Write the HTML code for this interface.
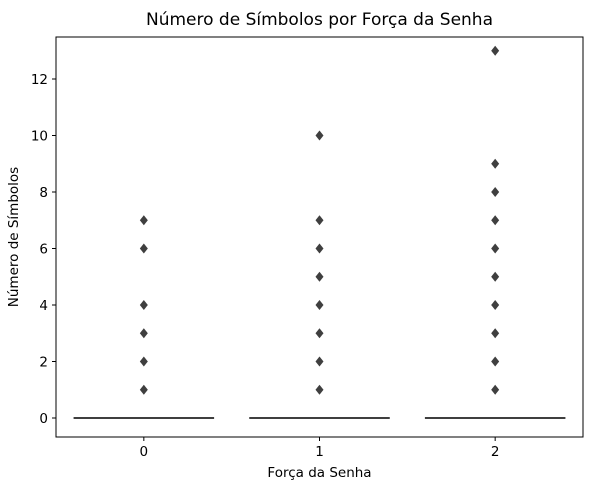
<!DOCTYPE html>
<html><head><meta charset="utf-8"><style>
body{margin:0;background:#fff;font-family:"DejaVu Sans","Liberation Sans",sans-serif}
text{font-family:"DejaVu Sans","Liberation Sans",sans-serif}
</style></head><body>
<svg width="593" height="490" xmlns="http://www.w3.org/2000/svg">
<g id="plot"></g>
</svg>
<script>
const categories=["0","1","2"];
const outliers0=[1,2,3,4,6,7];
const outliers1=[1,2,3,4,5,6,7,10];
const outliers2=[1,2,3,4,5,6,7,8,9,13];
const medians=[0,0,0];
const yTicks=[0,2,4,6,8,10,12];
const outliers=[outliers0,outliers1,outliers2];
const L=56,R=583,T=37,B=437;
const y=v=>418-v*28.25;
const band=(R-L)/categories.length;
const x=i=>L+band*(i+0.5);
const NS="http://www.w3.org/2000/svg";
const g=document.getElementById('plot');
function mk(t,a){const e=document.createElementNS(NS,t);for(const k in a)e.setAttribute(k,a[k]);g.appendChild(e);return e;}
categories.forEach((c,i)=>{
  const cx=x(i),w=band*0.8;
  const m=mk('line',{x1:cx-w/2,x2:cx+w/2,y1:y(medians[i]),y2:y(medians[i]),stroke:'#3f3f3f','stroke-width':2});
  
  
  outliers[i].forEach(v=>{
    const yy=y(v);
    const p=mk('path',{d:`M${cx} ${yy-5}L${cx+4} ${yy}L${cx} ${yy+5}L${cx-4} ${yy}Z`,fill:'#3f3f3f'});
    
    
  });
  const tk=mk('line',{x1:cx,x2:cx,y1:B,y2:B+4,stroke:'#000'});
  
  
  const tl=mk('text',{x:cx,y:B+19,'text-anchor':'middle','font-size':13.5});
  tl.textContent=c;
  
  
});
yTicks.forEach(v=>{
  const tk=mk('line',{x1:L-4,x2:L,y1:y(v),y2:y(v),stroke:'#000'});
  
  
  const tl=mk('text',{x:L-8,y:y(v)+5,'text-anchor':'end','font-size':13.5});
  tl.textContent=v;
  
  
});
const fr=mk('rect',{x:L,y:T,width:R-L,height:B-T,fill:'none',stroke:'#000','stroke-width':1});


const t=mk('text',{x:(L+R)/2,y:25,'text-anchor':'middle','font-size':17});
t.textContent='Número de Símbolos por Força da Senha';


const xt=mk('text',{x:(L+R)/2,y:477,'text-anchor':'middle','font-size':13.5});
xt.textContent='Força da Senha';


const yt=mk('text',{x:18,y:(T+B)/2,'text-anchor':'middle','font-size':13.5,transform:`rotate(-90 18 ${(T+B)/2})`});
yt.textContent='Número de Símbolos';


</script>
</body></html>
